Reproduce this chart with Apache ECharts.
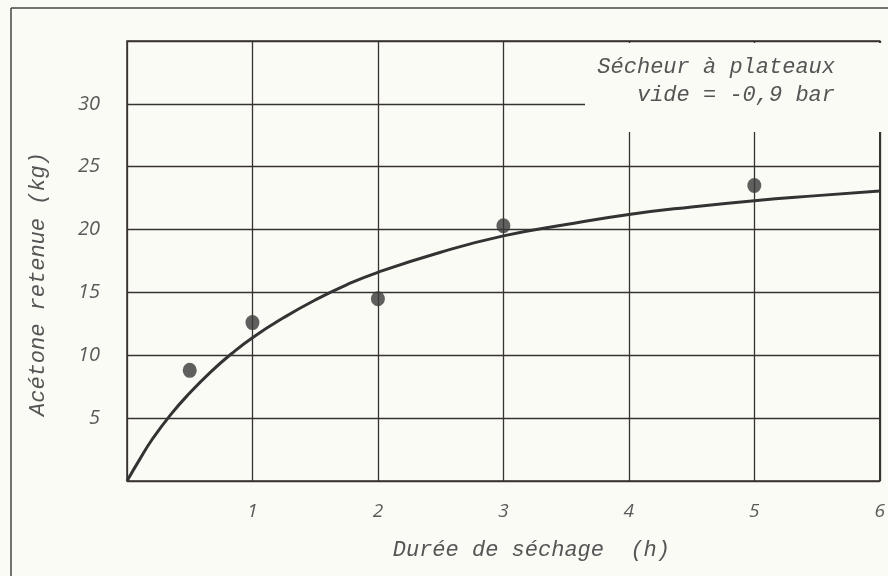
<!DOCTYPE html>
<html>
<head>
<meta charset="utf-8">
<script src="https://cdn.jsdelivr.net/npm/echarts@6/dist/echarts.min.js"></script>
<style>
  html, body { margin: 0; padding: 0; background: #fbfbf6; }
  #chart { width: 888px; height: 576px; }
</style>
</head>
<body>
<div id="chart"></div>
<script>
// measured points
const dureeMesure = [0.5, 1, 2, 3, 5];
const acetoneMesure = [8.8, 12.6, 14.5, 20.3, 23.5];

// fitted curve
const dureeCourbe = [0, 0.1, 0.2, 0.35, 0.5, 0.67, 0.83, 1, 1.25, 1.5, 1.75, 2, 2.5, 3, 3.5, 4, 4.5, 5, 5.5, 6];
const acetoneCourbe = [0, 1.7, 3.3, 5.3, 7.0, 8.7, 10.1, 11.4, 13.0, 14.4, 15.6, 16.6, 18.2, 19.5, 20.4, 21.2, 21.8, 22.3, 22.7, 23.07];

const xTicks = [1, 2, 3, 4, 5, 6];
const yTicks = [5, 10, 15, 20, 25, 30];

const chart = echarts.init(document.getElementById('chart'));

const ink = '#363230';
const mono = '"Liberation Mono", "DejaVu Sans Mono", monospace';
const sans = '"Open Sans", "DejaVu Sans", sans-serif';

const option = {
    backgroundColor: '#fbfbf6',
    animation: false,
    grid: {
        left: 127,
        right: 5,
        top: 41,
        bottom: 95,
        show: true,
        borderColor: ink,
        borderWidth: 1.5
    },
    xAxis: {
        type: 'value',
        min: 0,
        max: 6,
        interval: 1,
        name: 'Durée de séchage  (h)',
        nameLocation: 'middle',
        nameGap: 58,
        nameTextStyle: {
            fontFamily: mono,
            fontStyle: 'italic',
            fontSize: 22,
            color: '#555',
            padding: [0, 0, 0, 56]
        },
        axisLine: { show: false },
        axisTick: { show: false },
        axisLabel: {
            margin: 21,
            fontFamily: sans,
            fontStyle: 'italic',
            fontSize: 19,
            color: '#5a5a5a',
            formatter: v => xTicks.includes(v) ? String(v) : ''
        },
        splitLine: { lineStyle: { color: ink, width: 1.3 } }
    },
    yAxis: {
        type: 'value',
        min: 0,
        max: 35,
        interval: 5,
        name: 'Acétone retenue (kg)',
        nameLocation: 'middle',
        nameGap: 78,
        nameTextStyle: {
            fontFamily: mono,
            fontStyle: 'italic',
            fontSize: 22,
            color: '#555',
            padding: [0, 46, 0, 0]
        },
        axisLine: { show: false },
        axisTick: { show: false },
        axisLabel: {
            margin: 27,
            fontFamily: sans,
            fontStyle: 'italic',
            fontSize: 20,
            color: '#5a5a5a',
            formatter: v => yTicks.includes(v) ? String(v) : ''
        },
        splitLine: { lineStyle: { color: ink, width: 1.3 } }
    },
    graphic: [
        // outer frame of the figure
        { type: 'line', shape: { x1: 11, y1: 8, x2: 888, y2: 8 }, style: { stroke: '#444', lineWidth: 1.5 } },
        { type: 'line', shape: { x1: 11, y1: 8, x2: 11, y2: 576 }, style: { stroke: '#444', lineWidth: 1.5 } },
        // blank area behind the note
        { type: 'rect', z: 100, shape: { x: 585, y: 43, width: 297, height: 89 }, style: { fill: '#fbfbf6' } },
        {
            type: 'text', z: 101, right: 53, top: 56,
            style: {
                text: 'Sécheur à plateaux',
                font: 'italic 22px ' + mono,
                fill: '#555',
                textAlign: 'right'
            }
        },
        {
            type: 'text', z: 101, right: 53, top: 84,
            style: {
                text: 'vide = -0,9 bar',
                font: 'italic 22px ' + mono,
                fill: '#555',
                textAlign: 'right'
            }
        }
    ],
    series: [
        {
            type: 'line',
            data: dureeCourbe.map((x, i) => [x, acetoneCourbe[i]]),
            smooth: 0.5,
            showSymbol: false,
            lineStyle: { color: '#333', width: 3 },
            z: 3
        },
        {
            type: 'scatter',
            data: dureeMesure.map((x, i) => [x, acetoneMesure[i]]),
            symbol: 'circle',
            symbolSize: [14, 15],
            itemStyle: { color: '#3a3a3a' },
            z: 4
        }
    ]
};

chart.setOption(option);
</script>
</body>
</html>
